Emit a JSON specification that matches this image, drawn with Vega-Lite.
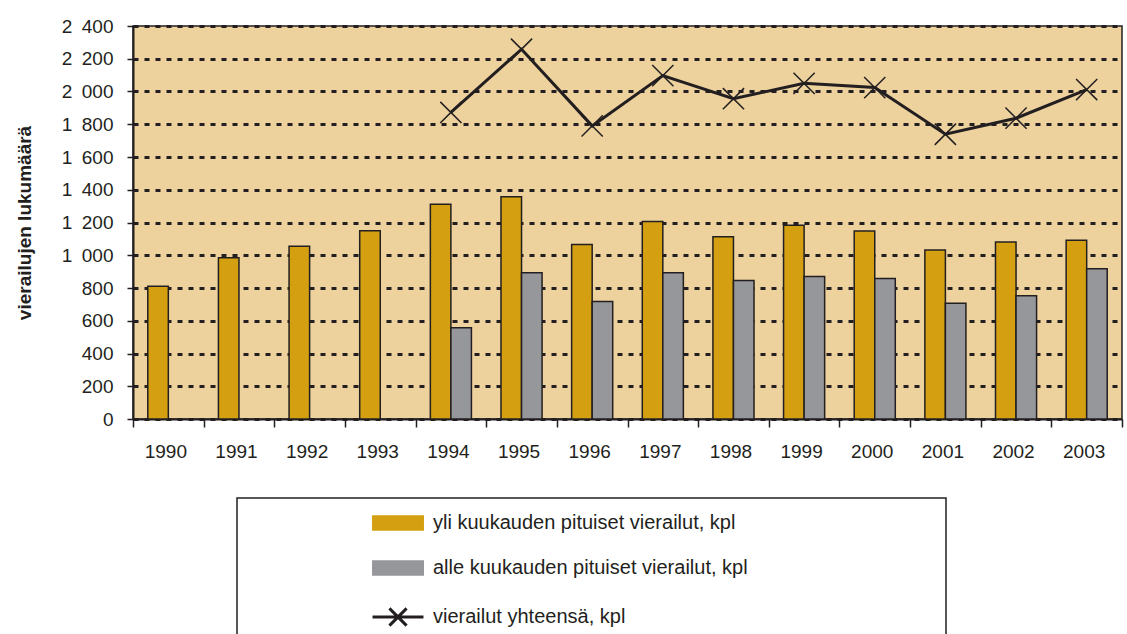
{
  "$schema": "https://vega.github.io/schema/vega-lite/v6.json",
  "autosize": "none",
  "width": 989,
  "height": 393,
  "padding": {"left": 133, "top": 26, "right": 5, "bottom": 215},
  "background": "white",
  "config": {
    "font": "Liberation Sans",
    "view": {"fill": "#EDD29E", "stroke": "#231F20", "strokeWidth": 1.5}
  },
  "data": {
    "values": [
      {"year": "1990", "series": "yli kuukauden pituiset vierailut, kpl", "value": 810},
      {"year": "1991", "series": "yli kuukauden pituiset vierailut, kpl", "value": 985},
      {"year": "1992", "series": "yli kuukauden pituiset vierailut, kpl", "value": 1055},
      {"year": "1993", "series": "yli kuukauden pituiset vierailut, kpl", "value": 1150},
      {"year": "1994", "series": "yli kuukauden pituiset vierailut, kpl", "value": 1312},
      {"year": "1995", "series": "yli kuukauden pituiset vierailut, kpl", "value": 1357},
      {"year": "1996", "series": "yli kuukauden pituiset vierailut, kpl", "value": 1066},
      {"year": "1997", "series": "yli kuukauden pituiset vierailut, kpl", "value": 1206},
      {"year": "1998", "series": "yli kuukauden pituiset vierailut, kpl", "value": 1113},
      {"year": "1999", "series": "yli kuukauden pituiset vierailut, kpl", "value": 1183},
      {"year": "2000", "series": "yli kuukauden pituiset vierailut, kpl", "value": 1148},
      {"year": "2001", "series": "yli kuukauden pituiset vierailut, kpl", "value": 1032},
      {"year": "2002", "series": "yli kuukauden pituiset vierailut, kpl", "value": 1081},
      {"year": "2003", "series": "yli kuukauden pituiset vierailut, kpl", "value": 1091},
      {"year": "1994", "series": "alle kuukauden pituiset vierailut, kpl", "value": 557},
      {"year": "1995", "series": "alle kuukauden pituiset vierailut, kpl", "value": 893},
      {"year": "1996", "series": "alle kuukauden pituiset vierailut, kpl", "value": 717},
      {"year": "1997", "series": "alle kuukauden pituiset vierailut, kpl", "value": 893},
      {"year": "1998", "series": "alle kuukauden pituiset vierailut, kpl", "value": 846},
      {"year": "1999", "series": "alle kuukauden pituiset vierailut, kpl", "value": 870},
      {"year": "2000", "series": "alle kuukauden pituiset vierailut, kpl", "value": 858},
      {"year": "2001", "series": "alle kuukauden pituiset vierailut, kpl", "value": 707},
      {"year": "2002", "series": "alle kuukauden pituiset vierailut, kpl", "value": 753},
      {"year": "2003", "series": "alle kuukauden pituiset vierailut, kpl", "value": 917},
      {"year": "1994", "series": "vierailut yhteensä, kpl", "value": 1872},
      {"year": "1995", "series": "vierailut yhteensä, kpl", "value": 2258},
      {"year": "1996", "series": "vierailut yhteensä, kpl", "value": 1790},
      {"year": "1997", "series": "vierailut yhteensä, kpl", "value": 2097},
      {"year": "1998", "series": "vierailut yhteensä, kpl", "value": 1956},
      {"year": "1999", "series": "vierailut yhteensä, kpl", "value": 2050},
      {"year": "2000", "series": "vierailut yhteensä, kpl", "value": 2024},
      {"year": "2001", "series": "vierailut yhteensä, kpl", "value": 1739},
      {"year": "2002", "series": "vierailut yhteensä, kpl", "value": 1837},
      {"year": "2003", "series": "vierailut yhteensä, kpl", "value": 2012}
    ]
  },
  "encoding": {
    "x": {
      "field": "year", "type": "nominal",
      "scale": {"paddingInner": 0, "paddingOuter": 0},
      "axis": {
        "title": null, "labelAngle": 0, "labelFontSize": 19, "labelColor": "#231F20",
        "labelPadding": 15, "labelOffset": -3, "tickBand": "extent", "tickSize": 8, "tickColor": "#231F20",
        "tickWidth": 1.5, "domainColor": "#231F20", "domainWidth": 2, "grid": false
      }
    },
    "y": {
      "field": "value", "type": "quantitative",
      "scale": {"domain": [0, 2400], "nice": false},
      "axis": {
        "title": "vierailujen lukumäärä", "titleFontSize": 19, "titleFontWeight": "bold",
        "titleColor": "#231F20", "titlePadding": 27,
        "values": [0, 200, 400, 600, 800, 1000, 1200, 1400, 1600, 1800, 2000, 2200, 2400],
        "labelExpr": "replace(format(datum.value, ','), ',', '\u2002')",
        "labelFontSize": 19, "labelColor": "#231F20", "labelPadding": 14,
        "tickSize": 6, "tickColor": "#231F20", "tickWidth": 1.5,
        "domainColor": "#231F20", "domainWidth": 2,
        "grid": true, "gridColor": "#231F20", "gridDash": [5, 6], "gridWidth": 2.8, "gridOpacity": 1
      }
    },
    "color": {
      "field": "series", "type": "nominal",
      "scale": {
        "domain": ["yli kuukauden pituiset vierailut, kpl", "alle kuukauden pituiset vierailut, kpl", "vierailut yhteensä, kpl"],
        "range": ["#D4A011", "#96979B", "#231F20"]
      },
      "legend": {
        "orient": "none", "legendX": 104, "legendY": 472, "direction": "vertical",
        "title": "\u200d\u00a0\u00a0\u00a0\u00a0\u00a0\u00a0\u00a0\u00a0\u00a0\u00a0\u00a0\u00a0\u00a0\u00a0\u00a0\u00a0\u00a0\u00a0\u00a0\u00a0\u00a0\u00a0\u00a0\u00a0\u00a0\u00a0\u00a0\u00a0\u200d",
        "titleOrient": "left", "titlePadding": 3, "titleFontSize": 17,
        "strokeColor": "#231F20", "fillColor": "white", "padding": 15,
        "rowPadding": 23, "labelOffset": 25,
        "labelFontSize": 20, "labelColor": "#231F20", "labelLimit": 900,
        "labelExpr": "datum.label + '\u00a0\u00a0\u00a0\u00a0\u00a0\u00a0\u00a0\u00a0\u00a0\u00a0\u00a0\u00a0\u00a0\u00a0\u00a0\u00a0\u00a0\u00a0\u00a0\u00a0\u00a0\u00a0\u00a0\u00a0\u00a0\u00a0\u00a0\u00a0\u00a0\u00a0\u00a0\u00a0\u00a0\u200d'",
        "symbolSize": 2704,
        "symbolStrokeColor": "#231F20",
        "encode": {
          "legend": {"update": {"strokeWidth": {"value": 1.5}}},
          "symbols": {
            "update": {
              "shape": {"signal": "datum.value == 'vierailut yhteensä, kpl' ? 'M-0.98,0H0.98M-0.33,-0.33L0.33,0.33M-0.33,0.33L0.33,-0.33' : 'M-0.97,-0.27H0.97V0.27H-0.97Z'"},
              "fill": {"signal": "datum.value == 'vierailut yhteensä, kpl' ? 'transparent' : scale('color', datum.value)"},
              "stroke": {"signal": "'#231F20'"},
              "strokeWidth": {"signal": "datum.value == 'vierailut yhteensä, kpl' ? 3 : 1.5"},
              "strokeOpacity": {"value": 1},
              "fillOpacity": {"value": 1},
              "opacity": {"value": 1},
              "size": {"value": 2704}
            }
          }
        }
      }
    }
  },
  "layer": [
    {
      "transform": [{"filter": "datum.series == 'vierailut yhteensä, kpl'"}],
      "mark": {
        "type": "line", "strokeWidth": 3,
        "point": {"shape": "M-1,-1L1,1M-1,1L1,-1", "filled": false, "size": 450, "strokeWidth": 1.5}
      }
    },
    {
      "transform": [{"filter": "datum.series != 'vierailut yhteensä, kpl'"}],
      "mark": {"type": "bar", "stroke": "#231F20", "strokeWidth": 1.5},
      "encoding": {
        "xOffset": {
          "field": "series", "type": "nominal",
          "scale": {"domain": ["yli kuukauden pituiset vierailut, kpl", "alle kuukauden pituiset vierailut, kpl"], "paddingInner": 0, "paddingOuter": 0.72}
        }
      }
    }
  ]
}
